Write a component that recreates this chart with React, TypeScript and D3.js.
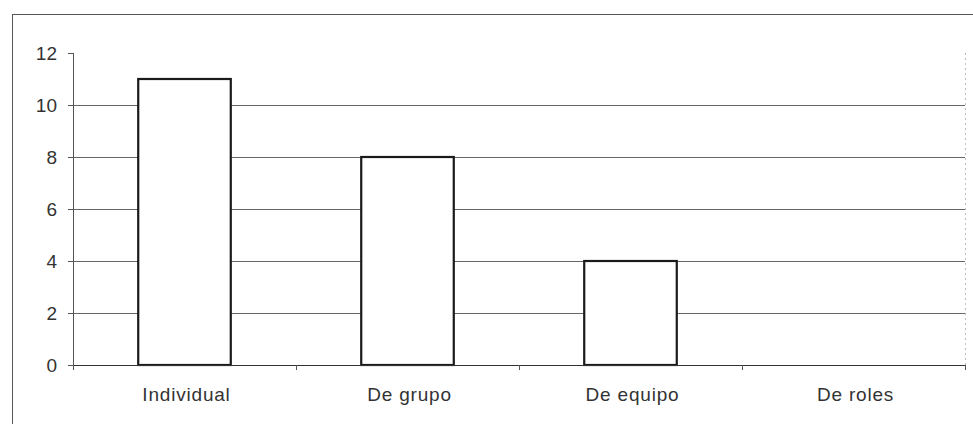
import { useEffect, useRef } from "react";
import * as d3 from "d3";

const categories = ["Individual", "De grupo", "De equipo", "De roles"];
const values = [11, 8, 4, 0];
const yTicks = [0, 2, 4, 6, 8, 10, 12];

export default function App() {
  const svgRef = useRef<SVGSVGElement>(null);

  useEffect(() => {
    if (!svgRef.current) return;
    const svg = d3.select(svgRef.current);
    svg.selectAll("*").remove();

    const W = 973;
    const H = 424;
    const margin = { top: 53, right: 8, bottom: 59, left: 73 };
    const innerW = W - margin.left - margin.right;
    const innerH = H - margin.top - margin.bottom;

    svg.attr("width", W).attr("height", H).style("background", "#fff");

    // chart border
    svg.append("rect")
      .attr("x", 12.5)
      .attr("y", 14.5)
      .attr("width", W + 10)
      .attr("height", H + 10)
      .attr("fill", "#fff")
      .attr("stroke", "#555")
      .attr("stroke-width", 1);

    const g = svg.append("g").attr("transform", `translate(${margin.left},${margin.top})`);

    const x = d3.scaleBand().domain(categories).range([0, innerW]).paddingInner(0).paddingOuter(0);
    const y = d3.scaleLinear().domain([0, 12]).range([innerH, 0]);

    // right plot border (faint dotted)
    g.append("line")
      .attr("x1", innerW + 0.5).attr("x2", innerW + 0.5)
      .attr("y1", 0).attr("y2", innerH)
      .attr("stroke", "#bbb")
      .attr("stroke-dasharray", "2,3");

    // gridlines
    g.selectAll(".grid")
      .data(yTicks.filter(t => t > 0 && t < 12))
      .enter()
      .append("line")
      .attr("x1", 0).attr("x2", innerW)
      .attr("y1", d => Math.round(y(d)) + 0.5)
      .attr("y2", d => Math.round(y(d)) + 0.5)
      .attr("stroke", "#666")
      .attr("stroke-width", 1);

    // bars
    const barW = x.bandwidth() * 0.415;
    g.selectAll(".bar")
      .data(categories.map((c, i) => ({ c, v: values[i] })).filter(d => d.v > 0))
      .enter()
      .append("rect")
      .attr("x", d => x(d.c)! + (x.bandwidth() - barW) / 2)
      .attr("y", d => y(d.v))
      .attr("width", barW)
      .attr("height", d => innerH - y(d.v))
      .attr("fill", "#fff")
      .attr("stroke", "#1a1a1a")
      .attr("stroke-width", 2.2);

    const font = "Arial, 'Liberation Sans', sans-serif";

    // y axis
    g.append("line")
      .attr("x1", 0.5).attr("x2", 0.5)
      .attr("y1", 0).attr("y2", innerH)
      .attr("stroke", "#555");
    g.selectAll(".ytick")
      .data(yTicks)
      .enter()
      .append("line")
      .attr("x1", -5).attr("x2", 0)
      .attr("y1", d => Math.round(y(d)) + 0.5)
      .attr("y2", d => Math.round(y(d)) + 0.5)
      .attr("stroke", "#555");
    g.selectAll(".ylabel")
      .data(yTicks)
      .enter()
      .append("text")
      .attr("x", -16)
      .attr("y", d => y(d))
      .attr("dy", "0.36em")
      .attr("text-anchor", "end")
      .style("font-family", font)
      .style("font-size", "19px")
      .style("fill", "#333")
      .text(d => d);

    // x axis
    g.append("line")
      .attr("x1", 0).attr("x2", innerW)
      .attr("y1", innerH + 0.5).attr("y2", innerH + 0.5)
      .attr("stroke", "#333");
    const bounds = categories.map(c => x(c)!).concat([innerW]);
    g.selectAll(".xtick")
      .data(bounds)
      .enter()
      .append("line")
      .attr("x1", d => Math.round(d) + 0.5).attr("x2", d => Math.round(d) + 0.5)
      .attr("y1", innerH).attr("y2", innerH + 5)
      .attr("stroke", "#555");
    g.selectAll(".xlabel")
      .data(categories)
      .enter()
      .append("text")
      .attr("x", d => x(d)! + x.bandwidth() / 2 + 2)
      .attr("y", innerH + 36)
      .attr("text-anchor", "middle")
      .style("font-family", font)
      .style("font-size", "19px")
      .style("letter-spacing", "0.8px")
      .style("fill", "#333")
      .text(d => d);
  }, []);

  return (
    <div style={{ position: "fixed", left: 0, top: 0 }}>
      <svg ref={svgRef} />
    </div>
  );
}
